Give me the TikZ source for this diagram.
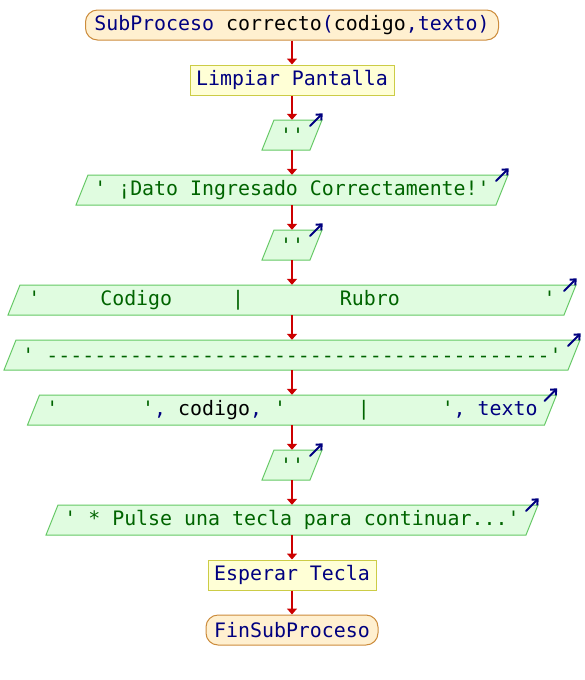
\documentclass[tikz,border=0pt]{standalone}
\usepackage{fontspec}
\setmonofont{DejaVu Sans Mono}
\usetikzlibrary{arrows.meta,calc}
\definecolor{kw}{RGB}{0,0,128}
\definecolor{str}{RGB}{0,100,0}
\definecolor{flowred}{RGB}{204,0,0}
\definecolor{outfill}{RGB}{224,252,224}
\definecolor{outdraw}{RGB}{100,200,100}
\definecolor{procfill}{RGB}{255,255,214}
\definecolor{procdraw}{RGB}{204,204,70}
\definecolor{termfill}{RGB}{255,240,208}
\definecolor{termdraw}{RGB}{204,140,60}
\newcommand\outnode[4]{%
  \draw[outshape] (292-#3-6,#2+15) -- (292+#3-6,#2+15) -- (292+#3+6,#2-15) -- (292-#3+6,#2-15) -- cycle;
  \node[minimum width={2*#3pt}] (#1) at (292,#2) {#4};
  \draw[outarrow] ($(#1.north east)+(-6,6)$) -- ++(12.5,-12.5);
}
\begin{document}
\begin{tikzpicture}[x=1pt,y=-1pt,
  every node/.style={font=\ttfamily\fontsize{19.9}{24}\selectfont, inner sep=0pt, minimum height=30pt},
  term/.style={draw=termdraw, fill=termfill, rounded corners=12pt, line width=1pt},
  proc/.style={draw=procdraw, fill=procfill, line width=1pt},
  outshape/.style={draw=outdraw, fill=outfill, line width=1pt},
  outarrow/.style={draw=kw, line width=2pt, line cap=round, -{Straight Barb[length=4.5pt,width=8pt]}},
  flow/.style={draw=flowred, line width=1.8pt, -{Triangle[length=6pt,width=10pt]}}]
\useasboundingbox (0,0) rectangle (584,680);
\node[term, minimum width=413pt] (t0) at (292,25) {\color{kw}SubProceso \color{black}correcto\color{kw}(\color{black}codigo\color{kw},texto)};
\node[proc, minimum width=204pt] (p1) at (292,80) {\color{kw}Limpiar Pantalla};
\outnode{o1}{135}{24}{\color{str}''}
\outnode{o2}{190}{210}{\color{str}'~¡Dato Ingresado Correctamente!'}
\outnode{o3}{245}{24}{\color{str}''}
\outnode{o4}{300}{278}{\color{str}'~~~~~Codigo~~~~~|~~~~~~~~Rubro~~~~~~~~~~~~'}
\outnode{o5}{355}{282}{\color{str}'~------------------------------------------'}
\outnode{o6}{410}{258.5}{\color{str}'~~~~~~~'\color{kw},~\color{black}codigo\color{kw},~\color{str}'~~~~~~|~~~~~~'\color{kw},~texto}
\outnode{o7}{465}{24}{\color{str}''}
\outnode{o8}{520}{240}{\color{str}'~*~Pulse una tecla para continuar...'}
\node[proc, minimum width=168pt] (p2) at (292,575) {\color{kw}Esperar Tecla};
\node[term, minimum width=172pt] (t1) at (292,630) {\color{kw}FinSubProceso};
\foreach \a/\b in {t0/p1,p1/o1,o1/o2,o2/o3,o3/o4,o4/o5,o5/o6,o6/o7,o7/o8,o8/p2,p2/t1}
  \draw[flow] (\a.south) -- (\b.north);
\end{tikzpicture}
\end{document}
